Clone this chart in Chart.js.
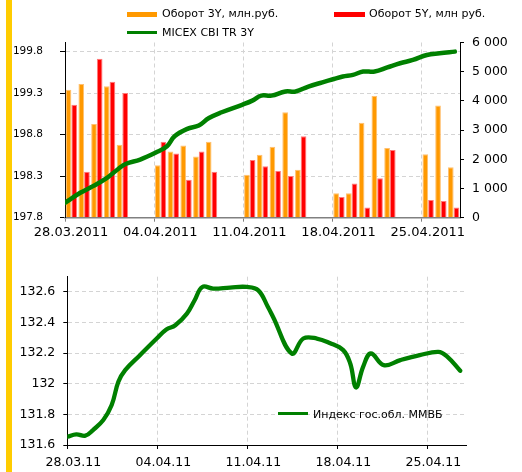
<!DOCTYPE html>
<html>
<head>
<meta charset="utf-8">
<script src="https://cdn.jsdelivr.net/npm/chart.js@4"></script>
<style>
body { margin: 0; background: #fff; }
#wrap { position: relative; width: 522px; height: 472px; overflow: hidden; font-family: "DejaVu Sans", Verdana, sans-serif; }
canvas { position: absolute; left: 0; }
#top { top: 0; }
#bottom { top: 250px; }
.strip { position: absolute; left: 6px; top: 0; width: 6px; height: 472px; background: #ffcc00; }
.lg { position: absolute; font-size: 11px; line-height: 14px; white-space: nowrap; color: #000; }
.sw { position: absolute; }
</style>
</head>
<body>
<div id="wrap">
    <canvas id="top" width="522" height="250"></canvas>
    <canvas id="bottom" width="522" height="222"></canvas>
    <div class="strip"></div>
    <div class="sw" style="left:127px;top:12px;width:30px;height:5px;background:#ff9900"></div>
    <div class="lg" style="left:162px;top:7px">Оборот 3Y, млн.руб.</div>
    <div class="sw" style="left:334px;top:12px;width:31px;height:5px;background:#ff0000"></div>
    <div class="lg" style="left:369px;top:7px">Оборот 5Y, млн руб.</div>
    <div class="sw" style="left:127px;top:31px;width:30px;height:3px;background:#008000"></div>
    <div class="lg" style="left:162px;top:26px">MICEX CBI TR 3Y</div>
    <div class="sw" style="left:278px;top:412px;width:30px;height:3px;background:#008000"></div>
    <div class="lg" style="left:313px;top:408px">Индекс гос.обл. ММВБ</div>
</div>
<script>
// trading days with volumes
const barDates = ['28.03', '29.03', '30.03', '31.03', '01.04',
    '04.04', '05.04', '06.04', '07.04', '08.04',
    '11.04', '12.04', '13.04', '14.04', '15.04',
    '18.04', '19.04', '20.04', '21.04', '22.04',
    '25.04', '26.04', '27.04'];
const vol3Y = [4380, 4580, 3210, 4500, 2500, 1800, 2270, 2470, 2100, 2600, 1470, 2160, 2430, 3610, 1640, 840, 840, 3250, 4170, 2390, 2170, 3840, 1730];
const vol5Y = [3870, 1570, 5440, 4660, 4270, 2600, 2200, 1300, 2270, 1570, 1980, 1760, 1600, 1430, 2790, 710, 1170, 350, 1350, 2320, 610, 570, 350];

// MICEX CBI TR 3Y (days since 28.03)
const micexDays = [0, 1.2, 2.2, 3.3, 4.2, 4.8, 5.9, 7.2, 8.0, 8.6, 9.6, 10.5, 11.3, 12.3, 13.9, 14.7, 15.4, 16.2, 17.3, 18.1, 19.1, 20.2, 21.1, 21.8, 22.6, 23.4, 24.3, 25.3, 26.3, 27.3, 28.4, 29.4, 30.6];
const micexValues = [197.98, 198.10, 198.18, 198.28, 198.39, 198.45, 198.50, 198.59, 198.66, 198.78, 198.87, 198.91, 199.00, 199.07, 199.16, 199.21, 199.27, 199.27, 199.32, 199.32, 199.38, 199.43, 199.47, 199.50, 199.52, 199.56, 199.56, 199.61, 199.66, 199.70, 199.76, 199.78, 199.80];

// Индекс гос.обл. ММВБ
const mmvbDays = [0, 0.7, 1.4, 2.0, 2.8, 3.45, 3.97, 4.5, 5.65, 6.95, 7.7, 8.4, 9.3, 9.9, 10.5, 11.35, 12.65, 13.95, 14.85, 15.6, 16.0, 17.45, 18.35, 19.4, 20.4, 21.45, 22.0, 22.45, 23.0, 23.6, 24.6, 25.9, 27.4, 28.85, 29.5, 30.55];
const mmvbValues = [131.654, 131.670, 131.661, 131.698, 131.763, 131.861, 132.013, 132.089, 132.187, 132.296, 132.355, 132.383, 132.459, 132.546, 132.633, 132.622, 132.629, 132.633, 132.611, 132.502, 132.437, 132.198, 132.296, 132.296, 132.267, 132.220, 132.133, 131.976, 132.111, 132.198, 132.122, 132.155, 132.187, 132.209, 132.181, 132.085];

const weekDays = [0, 7, 14, 21, 28];
const weekLabelsLong = ['28.03.2011', '04.04.2011', '11.04.2011', '18.04.2011', '25.04.2011'];
const weekLabelsShort = ['28.03.11', '04.04.11', '11.04.11', '18.04.11', '25.04.11'];
const priceTicks = [197.8, 198.3, 198.8, 199.3, 199.8];
const volumeTicks = [0, 1000, 2000, 3000, 4000, 5000, 6000];
const volumeLabels = ['0', '1 000', '2 000', '3 000', '4 000', '5 000', '6 000'];
const mmvbTicks = [131.6, 131.8, 132, 132.2, 132.4, 132.6];

function dayIndex(s) {
    const [d, m] = s.split('.').map(Number);
    return (Date.UTC(2011, m - 1, d) - Date.UTC(2011, 2, 28)) / 864e5;
}

const font = "'DejaVu Sans', Verdana, sans-serif";
const gridDash = [4, 3];
const gridColor = '#d4d4d4';

function pts(xs, ys) {
    return xs.map((x, i) => ({x: x, y: ys[i]}));
}

const barX = barDates.map((d) => dayIndex(d) + 0.5);

new Chart(document.getElementById('top'), {
    type: 'bar',
    data: {
        datasets: [{
            type: 'line',
            label: 'MICEX CBI TR 3Y',
            data: pts(micexDays, micexValues),
            yAxisID: 'y',
            borderColor: '#008000',
            borderWidth: 4.5,
            borderCapStyle: 'round',
            borderJoinStyle: 'round',
            pointRadius: 0,
            tension: 0.4,
            order: 0
        }, {
            label: 'Оборот 3Y, млн.руб.',
            data: pts(barX, vol3Y),
            yAxisID: 'y1',
            backgroundColor: '#ff9900',
            borderColor: '#ffc070',
            borderWidth: {left: 1, right: 1, top: 1, bottom: 0},
            categoryPercentage: 0.89,
            barPercentage: 1.0,
            order: 1
        }, {
            label: 'Оборот 5Y, млн руб.',
            data: pts(barX, vol5Y),
            yAxisID: 'y1',
            backgroundColor: '#ff0000',
            borderColor: '#ff7a7a',
            borderWidth: {left: 1, right: 1, top: 1, bottom: 0},
            categoryPercentage: 0.89,
            barPercentage: 1.0,
            order: 1
        }]
    },
    options: {
        responsive: false,
        animation: false,
        layout: {padding: {top: 42.5, left: 0, right: 0, bottom: 0}},
        plugins: {legend: {display: false}, tooltip: {enabled: false}},
        scales: {
            x: {
                type: 'linear',
                min: 0,
                max: 31,
                offset: false,
                afterBuildTicks: (s) => { s.ticks = weekDays.map((v) => ({value: v})); },
                afterFit: (s) => { s.height = 32.3; },
                grid: {offset: false, color: gridColor, tickColor: '#808080', tickLength: 4, tickBorderDash: []},
                border: {color: '#808080', width: 1.5, dash: gridDash},
                ticks: {
                    color: '#000',
                    font: {family: font, size: 13},
                    padding: 3,
                    labelOffset: 6,
                    maxRotation: 0,
                    autoSkip: false,
                    callback: (v, i) => weekLabelsLong[i]
                }
            },
            y: {
                position: 'left',
                min: 197.8,
                max: 199.91,
                afterBuildTicks: (s) => { s.ticks = priceTicks.map((v) => ({value: v})); },
                afterFit: (s) => { s.width = 65; },
                grid: {color: gridColor, tickColor: '#000', tickLength: 5, tickBorderDash: []},
                border: {color: '#000', width: 1, dash: gridDash},
                ticks: {
                    color: '#000',
                    font: {family: font, size: 10.5},
                    padding: 17,
                    callback: (v) => String(v)
                }
            },
            y1: {
                position: 'right',
                min: 0,
                max: 6000,
                afterBuildTicks: (s) => { s.ticks = volumeTicks.map((v) => ({value: v})); },
                afterFit: (s) => { s.width = 62; },
                grid: {drawOnChartArea: false, tickColor: '#000', tickLength: 4},
                border: {color: '#000', width: 1},
                ticks: {
                    color: '#000',
                    font: {family: font, size: 12.5},
                    padding: 8,
                    callback: (v, i) => volumeLabels[i]
                }
            }
        }
    }
});

new Chart(document.getElementById('bottom'), {
    type: 'line',
    data: {
        datasets: [{
            label: 'Индекс гос.обл. ММВБ',
            data: pts(mmvbDays, mmvbValues),
            borderColor: '#008000',
            borderWidth: 4.3,
            borderCapStyle: 'round',
            borderJoinStyle: 'round',
            pointRadius: 0,
            tension: 0.4
        }]
    },
    options: {
        responsive: false,
        animation: false,
        layout: {padding: {top: 26.7, left: 0, right: 56, bottom: 0}},
        plugins: {legend: {display: false}, tooltip: {enabled: false}},
        scales: {
            x: {
                type: 'linear',
                min: 0,
                max: 31,
                afterBuildTicks: (s) => { s.ticks = weekDays.map((v) => ({value: v})); },
                afterFit: (s) => { s.height = 27; },
                grid: {color: gridColor, tickColor: '#000', tickLength: 4, tickBorderDash: []},
                border: {color: '#000', width: 1, dash: gridDash},
                ticks: {
                    color: '#000',
                    font: {family: font, size: 12.5},
                    padding: 6,
                    labelOffset: 6,
                    maxRotation: 0,
                    autoSkip: false,
                    callback: (v, i) => weekLabelsShort[i]
                }
            },
            y: {
                min: 131.6,
                max: 132.7,
                afterBuildTicks: (s) => { s.ticks = mmvbTicks.map((v) => ({value: v})); },
                afterFit: (s) => { s.width = 67.3; },
                grid: {color: gridColor, tickColor: '#000', tickLength: 4, tickBorderDash: []},
                border: {color: '#000', width: 1, dash: gridDash},
                ticks: {
                    color: '#000',
                    font: {family: font, size: 12.5},
                    padding: 8,
                    callback: (v) => String(v)
                }
            }
        }
    }
});
</script>
</body>
</html>
